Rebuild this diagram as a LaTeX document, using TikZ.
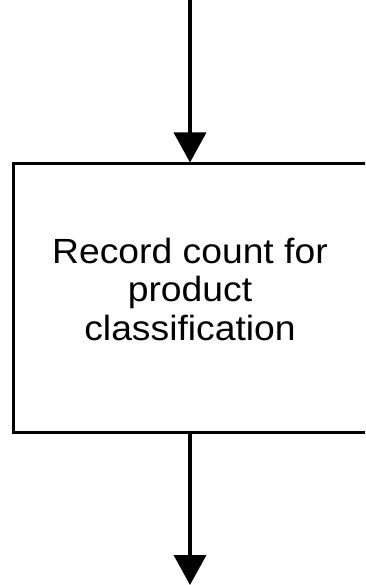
\documentclass[tikz,border=0pt]{standalone}
\usepackage{fontspec}
\setmainfont{Liberation Sans}
\usetikzlibrary{arrows.meta}
\newcommand\widetext[1]{\scalebox{1.065}[1]{#1}}
\begin{document}
\begin{tikzpicture}[x=1pt,y=1pt,
  flow/.style={line width=3.5pt, -{Triangle[width=32pt,length=30pt]}},
  procbox/.style={draw, line width=3pt, minimum width=354pt, minimum height=268pt, inner sep=0pt},
  boxtext/.style={align=center, font=\fontsize{35}{38.5}\selectfont, inner sep=0pt}]
\useasboundingbox (0,0) rectangle (365,-585);
\clip (0,0) rectangle (365,-585);
% process step
\node[procbox] (box) at (190,-298) {};
\node[boxtext] (label) at (190,-289)
  {\widetext{Record count for}\\\widetext{product}\\\widetext{classification}};
% incoming and outgoing flow
\coordinate (src) at (190,0);
\coordinate (sink) at (190,-585);
\draw[flow] (src) -- (box.north);
\draw[flow] (box.south) -- (sink);
\end{tikzpicture}
\end{document}
